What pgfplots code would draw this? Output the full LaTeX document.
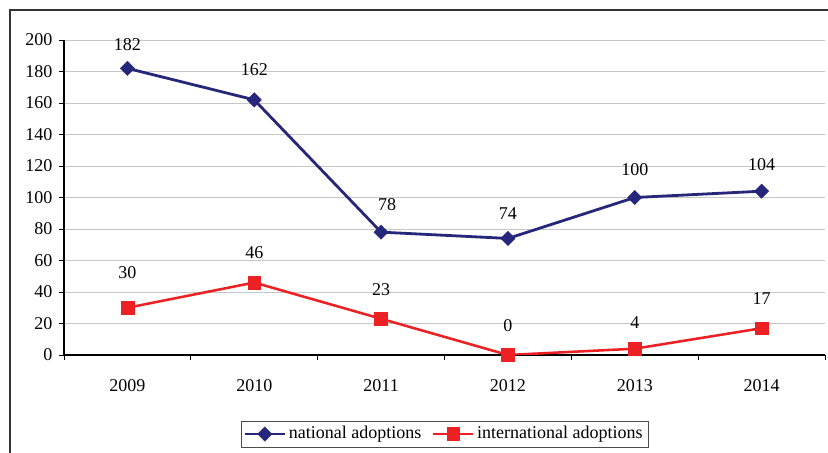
\documentclass[border=0pt]{standalone}
\usepackage{pgfplots}
\pgfplotsset{compat=1.18}
\usepackage{pgfplotstable}
\usepackage{fontspec}
\setmainfont{Liberation Serif}
\definecolor{navyc}{RGB}{38,38,122}
\definecolor{redc}{RGB}{237,32,36}
\pgfplotstableread{
x y off xoff
0 182 18 0
1 162 22.5 0
2 78 21 4.5
3 74 19 0
4 100 21 0
5 104 20 0
}\national
\pgfplotstableread{
x y off xoff
0 30 26.5 0
1 46 22.5 0
2 23 21.75 0
3 0 21.75 0
4 4 19.5 0
5 17 22.5 0
}\international
\begin{document}
\fontsize{13.5}{16}\selectfont
\begin{tikzpicture}
\useasboundingbox (0,0) rectangle (621pt,339.75pt);
\draw[line width=1.2pt, black!80] (7.5pt,0) -- (7.5pt,332.25pt) -- (621pt,332.25pt);
\begin{axis}[
  at={(48pt,73.5pt)}, anchor=south west,
  scale only axis, width=570.75pt, height=236.25pt,
  xmin=-0.5, xmax=5.5, ymin=0, ymax=200,
  axis lines*=left,
  axis line style={black, line width=0.8pt},
  xtick={0,...,5}, xticklabels={2009,2010,2011,2012,2013,2014},
  minor xtick={-0.5,0.5,...,5.5},
  major x tick style={draw=none},
  minor x tick style={black, line width=0.6pt},
  ytick={0,20,...,200},
  tick align=outside,
  major tick length=4pt, minor tick length=4pt,
  y tick style={black, line width=0.6pt},
  ymajorgrids, grid style={gray!45, line width=0.6pt},
  xticklabel style={yshift=-10pt},
  /pgf/number format/assume math mode=true,
  ticklabel style={font=\fontsize{13.5}{16}\selectfont},
  legend style={at={(0.5,-0.251)}, anchor=center, legend columns=2,
    draw=black!70, line width=0.6pt, font=\fontsize{13.5}{16}\selectfont,
    inner sep=2pt, /tikz/every even column/.append style={column sep=6pt}},
  legend image code/.code={%
    \draw[#1, mark repeat=2, mark phase=2] plot coordinates {(0cm,0cm) (0.52cm,0cm) (1.05cm,0cm)};},
  nodes near coords={\pgfmathprintnumber[assume math mode=true]{\pgfplotspointmeta}},
  visualization depends on={\thisrow{off} \as \myoff},
  visualization depends on={\thisrow{xoff} \as \myxoff},
  nodes near coords style={anchor=center, yshift=\myoff pt, xshift=\myxoff pt, text=black, font=\fontsize{13.5}{16}\selectfont},
]
\addplot[navyc, line width=2.1pt, mark=square*, mark size=3.8pt, mark options={rotate=45, fill=navyc, draw=navyc, line width=0.3pt}]
  table[x=x, y=y, meta=y] {\national};
\addlegendentry{national adoptions}
\addplot[redc, line width=1.9pt, mark=square*, mark size=4.8pt, mark options={fill=redc, draw=redc, line width=0.3pt}]
  table[x=x, y=y, meta=y] {\international};
\addlegendentry{international adoptions}
\end{axis}
\end{tikzpicture}
\end{document}
